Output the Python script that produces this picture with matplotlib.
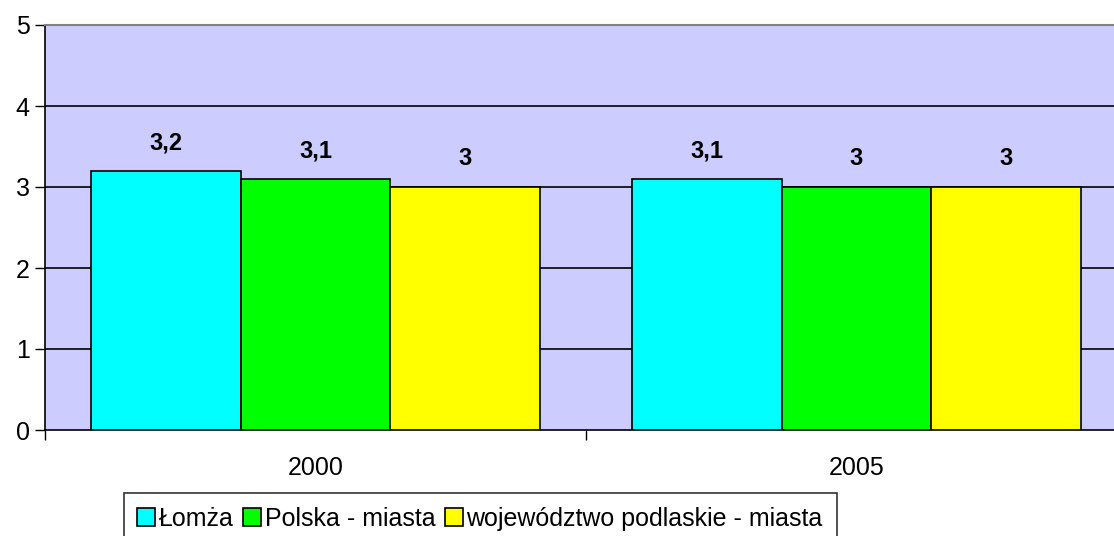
import numpy as np
import matplotlib.pyplot as plt

plt.rcParams['font.family'] = ['Liberation Sans', 'DejaVu Sans']

years = ['2000', '2005']
series = ['Łomża', 'Polska - miasta', 'województwo podlaskie - miasta']
lomza = [3.2, 3.1]
polska = [3.1, 3.0]
podlaskie = [3.0, 3.0]
colors = ['#00FFFF', '#00FF00', '#FFFF00']

fig = plt.figure(figsize=(11.14, 5.36), dpi=100)
W, H = 1114, 536
# plot area runs past the right edge, like the original
ax = fig.add_axes([45 / W, 1 - 430 / H, (1127 - 45) / W, (430 - 25) / H])
ax.set_facecolor('#CCCCFF')

x = np.arange(len(years))
width = 0.277
for i, (vals, c) in enumerate(zip([lomza, polska, podlaskie], colors)):
    bars = ax.bar(x + (i - 1) * width, vals, width, color=c, edgecolor='black',
                  linewidth=1.2, label=series[i], zorder=3)
    for b, v in zip(bars, vals):
        txt = f'{v:g}'.replace('.', ',')
        ax.annotate(txt, (b.get_x() + b.get_width() / 2, v), xytext=(0, 12),
                    textcoords='offset points', ha='center', va='bottom',
                    fontsize=17, fontweight='bold')

ax.set_ylim(0, 5)
ax.set_xlim(-0.5, 1.5)
ax.set_yticks(range(6))
ax.tick_params(axis='y', labelsize=18, length=7, width=1, direction='out', pad=4)
for y in range(1, 5):
    ax.axhline(y, color='black', linewidth=1.2, zorder=1)

# category boundaries carry the tick marks, year labels sit in between
ax.set_xticks([-0.5, 0.5, 1.5])
ax.set_xticklabels([])
ax.tick_params(axis='x', length=7, width=1, direction='out')
ax.set_xticks(x, minor=True)
ax.set_xticklabels(years, minor=True)
ax.tick_params(axis='x', which='minor', length=0, labelsize=18, pad=19)

ax.spines['top'].set_color('#808080')
ax.spines['top'].set_linewidth(1.5)
ax.spines['right'].set_visible(False)
ax.spines['left'].set_linewidth(1.2)
ax.spines['bottom'].set_linewidth(1.2)

# legend box is clipped by the bottom edge in the original
leg = fig.legend(loc='upper center', bbox_to_anchor=(480 / W, 1 - 493 / H), ncol=3,
                 fontsize=18, frameon=True, fancybox=False, edgecolor='black',
                 handlelength=0.7, handleheight=0.7, handletextpad=0.15,
                 columnspacing=0.4, borderpad=0.55, borderaxespad=0)
leg.get_frame().set_linewidth(1.2)

fig.savefig('out.png', dpi=100)
